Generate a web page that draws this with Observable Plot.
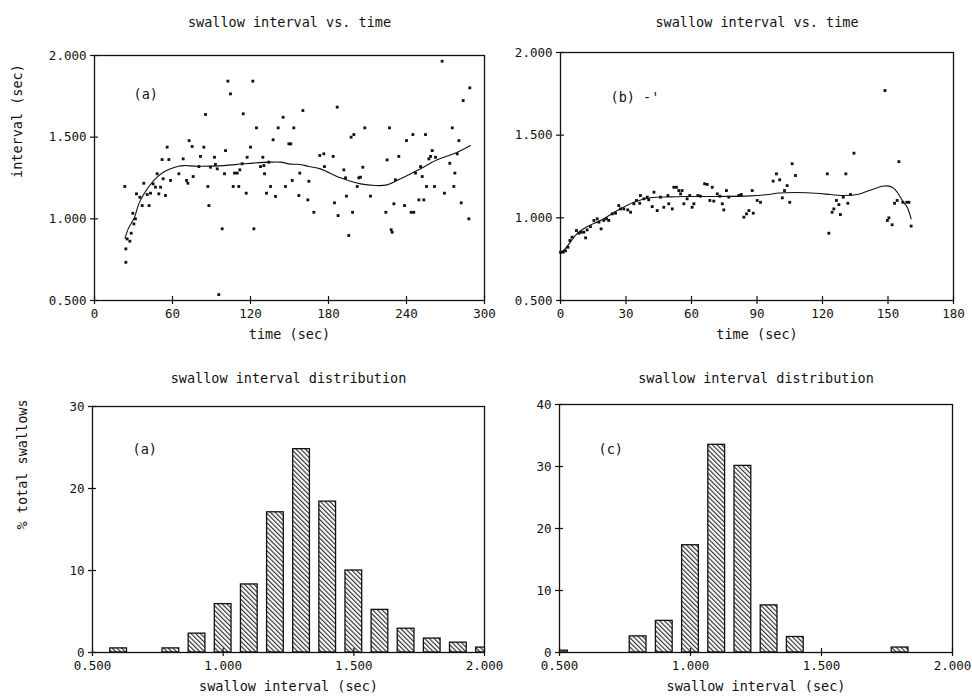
<!DOCTYPE html>
<html><head><meta charset="utf-8">
<script src="https://cdn.jsdelivr.net/npm/d3@7"></script>
<script src="https://cdn.jsdelivr.net/npm/@observablehq/plot@0.6"></script>
<style>
body{margin:0;background:#fff;}
#root{position:relative;width:972px;height:698px;overflow:hidden;background:#fff;}
.panel{position:absolute;}
</style></head><body><div id="root"></div>
<script>
const FONT = "'DejaVu Sans Mono','Liberation Mono',monospace";
const INK = "#111";

// ---- panel (a): swallow interval vs. time ----
const timeA = [23.3,24.1,24.1,25.1,27.2,28.2,29.5,30.3,31.5,32.3,34.9,36.7,37.9,40.5,43.1,42.0,45.1,46.9,48.2,49.5,50.8,52.8,54.6,52.0,57.2,55.9,58.5,64.9,68.2,70.8,71.8,72.8,75.1,75.9,80.3,84.1,81.5,85.4,87.2,88.0,89.2,92.3,93.0,94.4,95.6,98.2,100.0,100.8,102.6,104.6,106.7,111.0,107.7,109.8,111.8,114.4,113.6,116.7,117.4,120.0,121.8,122.6,124.6,127.7,130.3,129.5,130.8,132.3,135.4,134.1,137.4,139.2,141.3,145.1,146.9,149.5,151.0,152.1,153.3,157.2,157.9,160.3,164.1,164.9,168.7,173.3,176.4,176.9,183.6,184.6,186.7,187.4,191.8,193.1,193.8,195.6,197.4,199.5,198.5,202.1,203.3,204.6,206.4,207.9,212.3,224.1,225.1,226.9,228.2,229.0,230.3,231.5,234.1,238.5,240.0,243.6,245.6,244.9,246.9,249.5,253.3,250.8,252.1,254.6,255.4,257.2,258.5,259.8,261.5,262.3,267.4,269.2,273.3,275.2,276.4,277.2,279.0,280.3,282.1,283.6,288.0,288.7];
const intervalA = [1.198,0.816,0.734,0.877,0.863,0.912,1.034,0.969,1.000,1.153,1.132,1.081,1.218,1.149,1.157,1.081,1.214,1.194,1.276,1.153,1.194,1.245,1.143,1.363,1.363,1.439,1.235,1.276,1.367,1.235,1.218,1.479,1.443,1.259,1.320,1.439,1.382,1.639,1.198,1.081,1.316,1.377,1.333,1.306,0.536,0.939,1.276,1.418,1.843,1.765,1.198,1.198,1.280,1.280,1.300,1.643,1.337,1.157,1.377,1.439,1.843,0.939,1.557,1.320,1.326,1.377,1.276,1.157,1.198,1.347,1.484,1.137,1.557,1.622,1.198,1.459,1.459,1.235,1.557,1.143,1.280,1.663,1.116,1.230,1.040,1.388,1.398,1.320,1.382,1.098,1.684,1.020,1.300,1.251,1.139,0.898,1.500,1.516,1.040,1.198,1.251,1.255,1.316,1.557,1.139,1.040,1.361,1.557,0.933,0.918,1.092,1.239,1.382,1.081,1.479,1.040,1.040,1.516,1.280,1.116,1.116,1.320,1.259,1.516,1.198,1.367,1.382,1.418,1.198,1.377,1.965,1.157,1.340,1.557,1.198,1.280,1.398,1.479,1.098,1.724,1.000,1.802];
const fitTimeA = [23.5,26,30.8,34,37.9,43,48.2,53,58.5,64,68.7,79,99.5,114.9,135.4,143,150.8,158.5,164.9,173.8,189.2,204.6,216,225.1,235.4,248.2,263.6,279,289.2];
const fitIntervalA = [0.88,0.94,1.01,1.09,1.15,1.21,1.255,1.285,1.306,1.32,1.326,1.322,1.326,1.337,1.347,1.347,1.335,1.333,1.32,1.306,1.251,1.214,1.204,1.208,1.245,1.296,1.361,1.408,1.449];
const timeTicksA = [0,60,120,180,240,300];

// ---- panel (b): swallow interval vs. time ----
const timeB = [0.0,1.2,2.3,3.4,4.3,5.3,7.3,8.4,9.5,10.7,11.5,12.2,13.7,15.3,16.8,17.6,18.6,19.8,21.1,22.1,23.7,25.2,26.7,27.5,29.0,30.8,32.1,33.6,34.8,36.3,36.6,38.2,39.7,40.4,42.0,42.8,44.3,45.8,47.3,49.2,49.6,51.2,51.9,53.1,54.2,55.7,55.0,56.5,58.0,59.2,60.3,61.1,62.9,64.1,66.0,67.2,68.4,69.5,70.2,71.8,73.0,74.1,74.8,76.0,77.1,81.7,82.8,84.0,85.2,86.3,87.8,88.3,90.1,91.6,97.4,100.4,98.9,101.6,102.6,103.8,105.0,106.1,107.6,122.2,122.9,124.4,125.2,126.4,127.5,128.2,129.5,130.7,131.6,132.8,134.4,148.6,149.7,150.4,151.9,153.0,154.2,155.0,156.8,158.6,159.6,160.6];
const intervalB = [0.792,0.792,0.800,0.822,0.863,0.883,0.923,0.907,0.913,0.913,0.879,0.927,0.947,0.984,0.994,0.974,0.933,0.984,0.994,0.984,1.024,1.028,1.074,1.054,1.054,1.048,1.034,1.085,1.105,1.088,1.135,1.115,1.125,1.109,1.068,1.155,1.044,1.125,1.064,1.135,1.085,1.054,1.185,1.185,1.165,1.165,1.145,1.085,1.115,1.135,1.064,1.085,1.135,1.131,1.206,1.202,1.105,1.185,1.101,1.145,1.131,1.085,1.048,1.165,1.125,1.135,1.141,1.004,1.024,1.044,1.165,1.028,1.105,1.094,1.222,1.230,1.266,1.121,1.165,1.195,1.094,1.327,1.256,1.266,0.907,1.034,1.054,1.105,1.080,1.020,1.125,1.266,1.088,1.141,1.391,1.770,0.984,1.000,0.958,1.088,1.105,1.340,1.094,1.094,1.094,0.950];
const fitTimeB = [0,2,4.6,7.6,12,18.3,26,33.6,41.2,50,56.5,71.8,87,95.4,100,113,123.7,128.3,135.9,143.5,147.4,150.5,152.5,154.5,156.6,158.8,160.6];
const fitIntervalB = [0.79,0.81,0.855,0.905,0.945,0.984,1.044,1.094,1.121,1.127,1.129,1.129,1.133,1.141,1.15,1.152,1.141,1.135,1.141,1.175,1.191,1.192,1.18,1.15,1.105,1.064,0.994];
const timeTicksB = [0,30,60,90,120,150,180];

const intervalTicks = [0.5,1.0,1.5,2.0];

// ---- histograms ----
const binsA = [0.6,0.8,0.9,1.0,1.1,1.2,1.3,1.4,1.5,1.6,1.7,1.8,1.9,2.0];
const pctA  = [0.5,0.5,2.3,5.9,8.3,17.1,24.8,18.4,10.0,5.2,2.9,1.7,1.2,0.6];
const binsC = [0.5,0.8,0.9,1.0,1.1,1.2,1.3,1.4,1.8];
const pctC  = [0.3,2.6,5.1,17.3,33.5,30.1,7.6,2.5,0.8];
const pctTicksA = [0,10,20,30];
const pctTicksC = [0,10,20,30,40];

const titleTop = "swallow interval vs. time";
const titleBottom = "swallow interval distribution";
const xLabelTop = "time (sec)";
const yLabelTop = "interval (sec)";
const xLabelBottom = "swallow interval (sec)";
const yLabelBottom = "% total swallows";

const fmt3 = d3.format(".3f");
const root = document.getElementById("root");

function place(svg, left, top) {
  const div = document.createElement("div");
  div.className = "panel";
  div.style.left = left + "px";
  div.style.top = top + "px";
  div.appendChild(svg);
  root.appendChild(div);
}
function base(w, h, m) {
  return {width: w, height: h, marginLeft: m[0], marginTop: m[1], marginRight: m[2], marginBottom: m[3],
    style: {fontFamily: FONT, fontSize: "12.5px", color: INK, background: "transparent", overflow: "visible"}};
}
function axes(xTicks, yTicks, xFmt, yFmt) {
  return [
    Plot.axisX({ticks: xTicks, tickSize: 8, dy: -4, tickPadding: 5, tickFormat: xFmt, label: null, fontSize: 12.5, strokeWidth: 1.2}),
    Plot.axisY({ticks: yTicks, tickSize: 8, dx: 4, tickPadding: 4, tickFormat: yFmt, label: null, fontSize: 12.5, strokeWidth: 1.2}),
    Plot.frame({stroke: INK, strokeWidth: 1.3})
  ];
}
function txt(s, o) { return Plot.text([s], {fontSize: 13.5, fill: INK, ...o}); }

// Top-left (a)
const ptsA = timeA.map((t, i) => ({t, v: intervalA[i]}));
const fitA = fitTimeA.map((t, i) => ({t, v: fitIntervalA[i]}));
place(Plot.plot({
  ...base(486, 350, [94, 55, 2, 50]),
  x: {domain: [0, 300]}, y: {domain: [0.5, 2.0]},
  marks: [
    ...axes(timeTicksA, intervalTicks, d => String(d), fmt3),
    Plot.line(fitA, {x: "t", y: "v", curve: "catmull-rom", stroke: INK, strokeWidth: 1.1}),
    Plot.dot(ptsA, {x: "t", y: "v", symbol: "square", r: 1.6, fill: INK}),
    txt("(a)", {frameAnchor: "top-left", dx: 39, dy: 34, textAnchor: "start"}),
    txt(titleTop, {frameAnchor: "top", dy: -38}),
    txt(xLabelTop, {frameAnchor: "bottom", dy: 38}),
    txt(yLabelTop, {frameAnchor: "left", dx: -77, rotate: -90})
  ]
}), 0, 0);

// Top-right (b)
const ptsB = timeB.map((t, i) => ({t, v: intervalB[i]}));
const fitB = fitTimeB.map((t, i) => ({t, v: fitIntervalB[i]}));
place(Plot.plot({
  ...base(486, 350, [74, 52, 19, 50]),
  x: {domain: [0, 180]}, y: {domain: [0.5, 2.0]},
  marks: [
    ...axes(timeTicksB, intervalTicks, d => String(d), fmt3),
    Plot.line(fitB, {x: "t", y: "v", curve: "catmull-rom", stroke: INK, strokeWidth: 1.1}),
    Plot.dot(ptsB, {x: "t", y: "v", symbol: "square", r: 1.6, fill: INK}),
    txt("(b) -'", {frameAnchor: "top-left", dx: 50, dy: 40, textAnchor: "start"}),
    txt(titleTop, {frameAnchor: "top", dy: -35}),
    txt(xLabelTop, {frameAnchor: "bottom", dy: 38})
  ]
}), 486, 0);

function addHatch(svg, id) {
  const ns = "http://www.w3.org/2000/svg";
  const defs = document.createElementNS(ns, "defs");
  defs.innerHTML = `<pattern id="${id}" patternUnits="userSpaceOnUse" width="3.3" height="3.3" patternTransform="rotate(-45)"><rect width="3.3" height="3.3" fill="white"/><line x1="0.6" y1="0" x2="0.6" y2="3.3" stroke="${INK}" stroke-width="1"/></pattern>`;
  svg.insertBefore(defs, svg.firstChild);
  return svg;
}

// Bottom-left histogram (a)
const histA = binsA.map((x, i) => ({x, p: pctA[i]}));
place(addHatch(Plot.plot({
  ...base(486, 348, [92, 56, 2, 46]),
  x: {domain: [0.5, 2.0]}, y: {domain: [0, 30]},
  marks: [
    Plot.rect(histA, {x1: d => d.x - 0.032, x2: d => d.x + 0.032, y1: 0, y2: "p", fill: "url(#hatchA)", stroke: INK, strokeWidth: 1.3, clip: true}),
    ...axes([0.5, 1.0, 1.5, 2.0], pctTicksA, fmt3, d => String(d)),
    txt("(a)", {frameAnchor: "top-left", dx: 40, dy: 38, textAnchor: "start"}),
    txt(titleBottom, {frameAnchor: "top", dy: -33}),
    txt(xLabelBottom, {frameAnchor: "bottom", dy: 38}),
    txt(yLabelBottom, {frameAnchor: "left", dx: -70, rotate: -90})
  ]
}), "hatchA"), 0, 350);

// Bottom-right histogram (c)
const histC = binsC.map((x, i) => ({x, p: pctC[i]}));
place(addHatch(Plot.plot({
  ...base(486, 348, [73, 54, 20, 46]),
  x: {domain: [0.5, 2.0]}, y: {domain: [0, 40]},
  marks: [
    Plot.rect(histC, {x1: d => d.x - 0.032, x2: d => d.x + 0.032, y1: 0, y2: "p", fill: "url(#hatchC)", stroke: INK, strokeWidth: 1.3, clip: true}),
    ...axes([0.5, 1.0, 1.5, 2.0], pctTicksC, fmt3, d => String(d)),
    txt("(c)", {frameAnchor: "top-left", dx: 39, dy: 40, textAnchor: "start"}),
    txt(titleBottom, {frameAnchor: "top", dy: -31}),
    txt(xLabelBottom, {frameAnchor: "bottom", dy: 38})
  ]
}), "hatchC"), 486, 350);
</script></body></html>
